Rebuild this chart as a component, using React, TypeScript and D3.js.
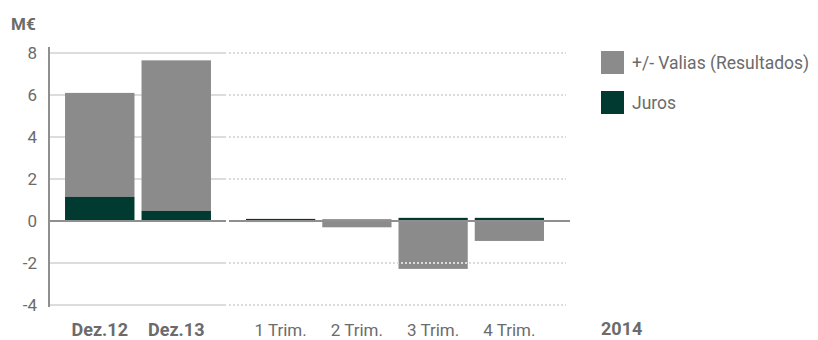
import React from 'react';
import { scaleBand, scaleLinear } from 'd3';

const annualCats = ['Dez.12', 'Dez.13'];
const quarterCats = ['1 Trim.', '2 Trim.', '3 Trim.', '4 Trim.'];
const annualValias = [4.95, 7.17];
const annualJuros = [1.15, 0.48];
const quarterValias = [-0.05, -0.3, -2.28, -0.95];
const quarterJuros = [0.1, 0.07, 0.15, 0.15];
const yTicks = [-4, -2, 0, 2, 4, 6, 8];
const legendLabels = ['+/- Valias (Resultados)', 'Juros'];

const GRAY = '#8a8b8a';
const GREEN = '#003a30';
const TEXT = '#6b6b6b';
const FONT = 'Roboto, "DejaVu Sans", sans-serif';

function App() {
  const w = 818;
  const h = 340;
  const axisX = 49;

  const y = scaleLinear().domain([-4, 8]).range([305, 53]);
  const xA = scaleBand().domain(annualCats).range([58, 218]).padding(0.092);
  const xQ = scaleBand().domain(quarterCats).range([239, 551]).padding(0.092);

  // stacked: juros from 0 up; valias on top if positive, from 0 down if negative
  const bars = (cats, scale, valias, juros) =>
    cats.map((c, i) => {
      const x = scale(c);
      const bw = scale.bandwidth();
      const j = juros[i];
      const v = valias[i];
      const vBase = v >= 0 ? j : 0;
      const vTop = vBase + v;
      return (
        <g key={c}>
          <rect x={x} width={bw} y={y(Math.max(vBase, vTop))} height={Math.abs(y(vBase) - y(vTop))} fill={GRAY} />
          <rect x={x} width={bw} y={y(j)} height={y(0) - y(j)} fill={GREEN} />
        </g>
      );
    });

  return (
    <svg width={w} height={h} style={{ position: 'absolute', left: 0, top: 0 }} fontFamily={FONT}>
      {/* solid grid (left part) */}
      {yTicks.filter(t => t !== 0).map(t => (
        <line key={'g' + t} x1={axisX} x2={226} y1={y(t)} y2={y(t)} stroke="#dcdcdc" strokeWidth={2} />
      ))}
      {bars(annualCats, xA, annualValias, annualJuros)}
      {bars(quarterCats, xQ, quarterValias, quarterJuros)}
      {/* dotted grid (right part) */}
      {yTicks.filter(t => t !== 0).map(t => (
        <line key={'d' + t} x1={229} x2={566} y1={y(t)} y2={y(t)} stroke="#dcdcdc" strokeWidth={2} strokeDasharray="2,2" />
      ))}
      {/* zero line */}
      <line x1={axisX} x2={226} y1={y(0)} y2={y(0)} stroke="#8f8f8f" strokeWidth={2} />
      <line x1={229} x2={570} y1={y(0)} y2={y(0)} stroke="#8f8f8f" strokeWidth={2} />
      {/* y axis */}
      <line x1={axisX} x2={axisX} y1={47} y2={307} stroke="#8f8f8f" strokeWidth={2} />
      {yTicks.map(t => (
        <text key={'t' + t} x={37} y={y(t)} dy="0.35em" textAnchor="end" fontSize={17} fill={TEXT}>
          {t}
        </text>
      ))}
      <text x={11} y={30} fontSize={17} fontWeight="bold" fill={TEXT}>M€</text>
      {annualCats.map(c => (
        <text key={c} x={xA(c) + xA.bandwidth() / 2} y={336} textAnchor="middle" fontSize={18} fontWeight="bold" fill={TEXT}>
          {c}
        </text>
      ))}
      {quarterCats.map(c => (
        <text key={c} x={xQ(c) + xQ.bandwidth() / 2} y={336} textAnchor="middle" fontSize={17} fill={TEXT}>
          {c}
        </text>
      ))}
      <text x={601} y={335} fontSize={18} fontWeight="bold" fill={TEXT}>2014</text>
      {legendLabels.map((l, i) => (
        <g key={l} transform={`translate(601,${51 + i * 40})`}>
          <rect width={23} height={23} fill={i === 0 ? GRAY : GREEN} />
          <text x={31} y={12} dy="0.35em" fontSize={17.5} fill={TEXT}>{l}</text>
        </g>
      ))}
    </svg>
  );
}

export default App;
